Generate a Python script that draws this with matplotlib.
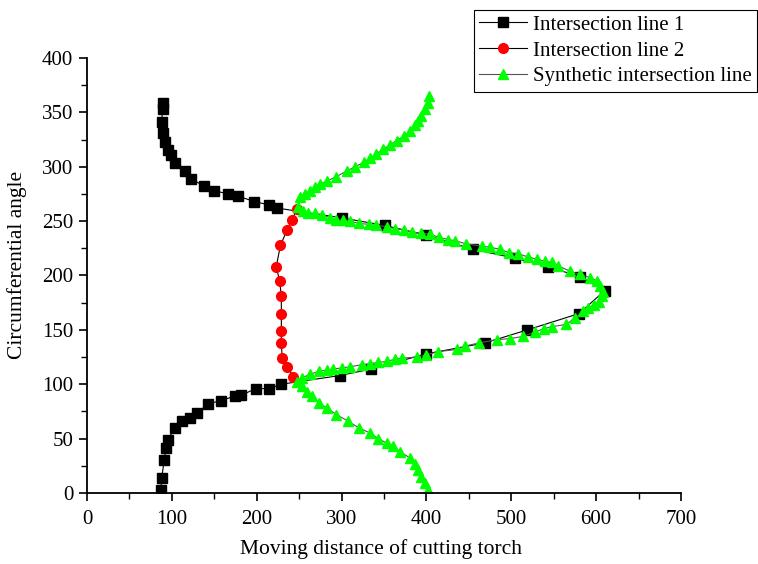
import matplotlib
matplotlib.use("Agg")
import matplotlib.pyplot as plt
from matplotlib.ticker import MultipleLocator

plt.rcParams['font.family'] = ['Liberation Serif', 'DejaVu Serif']
plt.rcParams['font.size'] = 15

# Intersection line 1 (black squares)
x1 = [87, 88, 91, 93, 95, 104, 112, 121, 130, 143, 158, 174, 182, 199, 215, 229,
      298, 335, 400, 469, 519, 580, 610, 581, 543, 504, 455, 400, 351, 300,
      224, 214, 197, 178, 166, 150, 138, 123, 115, 104, 99, 96, 92, 90, 88, 89, 89]
y1 = [3, 14, 30, 41, 49, 60, 66, 69, 74, 82, 85, 89, 90, 96, 96, 100,
      108, 114, 128, 138, 150, 165, 186, 199, 208, 216, 224, 237, 246, 253,
      262, 265, 268, 273, 275, 278, 282, 289, 296, 303, 311, 315, 323, 331, 341, 353, 359]

# Intersection line 2 (red circles)
x2 = [248, 241, 236, 228, 223, 227, 229, 229, 229, 229, 230, 236, 243]
y2 = [261, 251, 242, 228, 208, 195, 181, 165, 149, 138, 124, 116, 107]

# Synthetic intersection line (green triangles)
x3 = [402, 398, 394, 390, 386, 381, 369, 361, 353, 343, 334, 320, 308, 294, 283, 273, 265, 259, 253, 247,
      253, 263, 273, 283, 290, 300, 310, 324, 334, 343, 353, 363, 371, 389, 400, 414, 436, 445, 462, 483,
      499, 514, 528, 538, 548, 565, 575, 585, 591, 597, 603, 607, 608,
      605, 601, 593, 581, 569, 555, 548, 540, 530, 520, 508, 497, 487, 475, 465, 447, 434, 426, 415, 404,
      394, 383, 373, 363, 353, 341, 332, 320, 310, 302, 294, 286, 277, 269, 261, 255, 249,
      251, 257, 263, 269, 275, 283, 294, 306, 316, 326, 334, 341, 349, 357, 365, 373, 381, 387, 390, 394,
      398, 402, 403]
y3 = [3, 9, 15, 21, 27, 32, 38, 43, 46, 50, 55, 60, 66, 72, 78, 83, 89, 93, 98, 102,
      106, 109, 112, 113, 114, 115, 116, 118, 119, 120, 121, 123, 124, 125, 127, 130, 132, 135, 138, 141,
      142, 144, 148, 151, 153, 155, 161, 167, 170, 173, 176, 181, 185,
      190, 195, 198, 201, 204, 209, 212, 213, 215, 217, 220, 221, 224, 226, 227, 229, 232, 233, 235, 238,
      239, 240, 242, 243, 245, 246, 247, 248, 250, 251, 251, 253, 256, 257, 257, 259, 263,
      272, 275, 278, 281, 284, 287, 291, 296, 300, 304, 308, 312, 316, 320, 324, 328, 333, 338, 342, 347,
      353, 359, 365]

fig = plt.figure(figsize=(7.58, 5.64), dpi=100)
ax = fig.add_axes([0.1148, 0.1259, 0.7836, 0.7713])

ax.plot(x1, y1, color='black', lw=0.8, marker='s', ms=6.5, mfc='black', mec='black',
        label='Intersection line 1')
ax.plot(x2, y2, color='black', lw=0.8, marker='o', ms=7, mfc='red', mec='red',
        label='Intersection line 2')
ax.plot(x3, y3, color='#555555', lw=0.8, marker='^', ms=7.5, mfc='#00ff00', mec='#00ff00',
        label='Synthetic intersection line')

ax.set_xlim(0, 700)
ax.set_ylim(0, 400)
ax.xaxis.set_major_locator(MultipleLocator(100))
ax.xaxis.set_minor_locator(MultipleLocator(50))
ax.yaxis.set_major_locator(MultipleLocator(50))
ax.yaxis.set_minor_locator(MultipleLocator(25))
ax.tick_params(which='major', direction='out', length=6, width=1.2, labelsize=15, pad=4)
ax.tick_params(axis='x', which='major', pad=6)
ax.tick_params(which='minor', direction='out', length=4, width=1.0)
for s in ['top', 'right']:
    ax.spines[s].set_visible(False)
for s in ['left', 'bottom']:
    ax.spines[s].set_linewidth(1.3)

fig.text(381 / 758, 1 - 549 / 564, 'Moving distance of cutting torch', fontsize=15.5,
         ha='center', va='center')
fig.text(17 / 758, 1 - 265 / 564, 'Circumferential angle', fontsize=15.5,
         ha='center', va='center', rotation=90)

leg = fig.legend(loc='upper right', bbox_to_anchor=(757 / 758, 1 - 10 / 564), fancybox=False,
                 edgecolor='black', framealpha=1, fontsize=15, handlelength=2.3,
                 borderpad=0.25, labelspacing=0.3, handletextpad=0.3, borderaxespad=0)
leg.get_frame().set_linewidth(0.8)

fig.savefig('out.png', dpi=100)
